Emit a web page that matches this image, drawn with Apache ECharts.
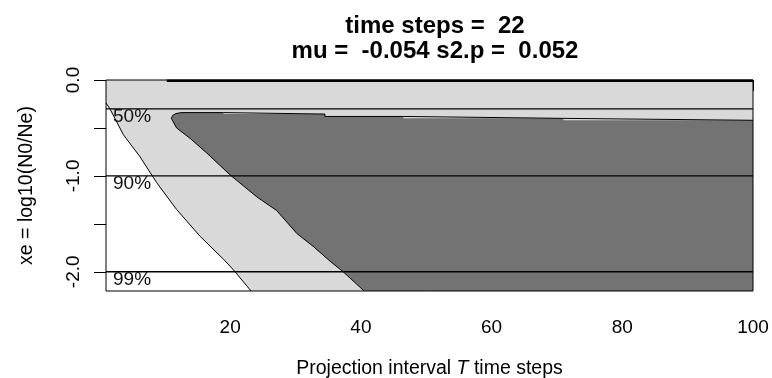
<!DOCTYPE html>
<html>
<head>
<meta charset="utf-8">
<script src="https://cdn.jsdelivr.net/npm/echarts@6/dist/echarts.min.js"></script>
<style>
html,body{margin:0;padding:0;background:#fff;}
#chart{width:772px;height:378px;}
</style>
</head>
<body>
<div id="chart"></div>
<script>
// ---- data ----
const titleLines = ['time steps =  22', 'mu =  -0.054 s2.p =  0.052'];
const xRange = [1, 100];
const yRange = [-2.2, 0];
const xTicks = [20, 40, 60, 80, 100];
const yTicks = [0, -0.5, -1, -1.5, -2];
const yTickLabels = [0, -1, -2];

// boundary of the white (lower-left) region
const whiteEdgeX = [1, 1.6, 3.65, 6.2, 8.75, 11.8, 15.4, 19, 20.5, 23.2];
const whiteEdgeY = [-0.24, -0.30, -0.57, -0.80, -1.07, -1.35, -1.63, -1.87, -1.98, -2.2];

// top edge of the dark region
const darkTopX = [11.0, 11.2, 11.7, 12.5, 19, 19, 34.5, 34.5, 46.5, 46.5, 71, 71, 100];
const darkTopY = [-0.40, -0.37, -0.35, -0.34, -0.34, -0.355, -0.355, -0.38, -0.38, -0.40, -0.40, -0.42, -0.42];

// lower-left edge of the dark region
const darkLeftX = [11.0, 11.8, 13.9, 16.4, 20.0, 24.1, 27.1, 30.2, 32.8, 35.3, 37.3, 40.5];
const darkLeftY = [-0.40, -0.50, -0.61, -0.76, -0.99, -1.22, -1.36, -1.60, -1.74, -1.89, -2.00, -2.2];

// thick contour along the top
const topLineX = [10.3, 100];
const topLineY = [-0.008, -0.008];

// probability level lines
const levelNames = ['50%', '90%', '99%'];
const levelValues = [-0.301, -1, -2];

// ---- build chart ----
const pairs = (xs, ys) => xs.map((x, i) => [x, ys[i]]);
const FONT = '"Liberation Sans", Arial, sans-serif';
const LIGHT = '#d9d9d9';
const DARK = '#737373';

// dark region polygon: top edge, right-bottom corner, left edge reversed
const darkPoly = pairs(darkTopX, darkTopY)
  .concat([[xRange[1], yRange[0]]])
  .concat(pairs(darkLeftX, darkLeftY).reverse());

const series = [];
// light gray background over the full plot region
series.push({
  type: 'line', z: 1, data: pairs(xRange, [yRange[1], yRange[1]]), symbol: 'none',
  lineStyle: {width: 0}, areaStyle: {color: LIGHT, opacity: 1, origin: 'start'}, silent: true
});
// dark region
series.push({
  type: 'custom', z: 2, silent: true, clip: true,
  data: darkPoly,
  renderItem: (params, api) => {
    if (params.dataIndex !== 0) return null;
    return {
      type: 'polygon',
      shape: {points: darkPoly.map(p => api.coord(p))},
      style: {fill: DARK, stroke: null}
    };
  }
});
// dark region outline
series.push({
  type: 'line', z: 3, data: pairs(darkTopX, darkTopY), symbol: 'none',
  lineStyle: {color: '#000', width: 1}, silent: true
});
series.push({
  type: 'line', z: 3, data: pairs(darkLeftX, darkLeftY), symbol: 'none',
  lineStyle: {color: '#000', width: 1}, silent: true
});
// white lower-left region
series.push({
  type: 'line', z: 3, data: pairs(whiteEdgeX, whiteEdgeY), symbol: 'none',
  lineStyle: {color: '#000', width: 1}, areaStyle: {color: '#fff', opacity: 1, origin: 'start'}, silent: true
});
// thick top contour
series.push({
  type: 'line', z: 4, data: pairs(topLineX, topLineY), symbol: 'none',
  lineStyle: {color: '#000', width: 2.5}, silent: true
});
// level lines
levelValues.forEach(v => {
  series.push({
    type: 'line', z: 4, data: pairs(xRange, [v, v]), symbol: 'none',
    lineStyle: {color: '#000', width: 1.4}, silent: true
  });
});
// level labels
series.push({
  type: 'custom', silent: true, clip: false, z: 5,
  data: levelValues.map((v, i) => [xRange[0], v, levelNames[i]]),
  renderItem: (params, api) => {
    const pt = api.coord([api.value(0), api.value(1)]);
    return {
      type: 'text',
      x: pt[0] + 7, y: pt[1] + 8,
      style: {
        text: levelNames[params.dataIndex], fill: '#111',
        font: '19px ' + FONT, textAlign: 'left', textVerticalAlign: 'middle'
      }
    };
  }
});

const option = {
  animation: false,
  backgroundColor: '#fff',
  title: {
    text: titleLines.join('\n'),
    left: 430, top: 9, textAlign: 'center',
    textStyle: {fontFamily: FONT, fontSize: 24, fontWeight: 'bold', color: '#000', lineHeight: 25}
  },
  grid: {
    left: 106, right: 19, top: 80, bottom: 87,
    outerBoundsMode: 'none', containLabel: false,
    show: true, borderColor: '#000', borderWidth: 1, backgroundColor: 'transparent', z: 10
  },
  xAxis: {
    type: 'value', min: xRange[0], max: xRange[1],
    axisLine: {show: false},
    splitLine: {show: false},
    axisTick: {show: true, length: 11, customValues: xTicks, lineStyle: {color: '#000'}},
    axisLabel: {customValues: xTicks, margin: 27, color: '#000', fontFamily: FONT, fontSize: 19},
    name: 'Projection interval {i|T} time steps',
    nameLocation: 'middle', nameGap: 68,
    nameTextStyle: {fontFamily: FONT, fontSize: 19.5, color: '#000',
      rich: {i: {fontStyle: 'italic', fontFamily: FONT, fontSize: 19.5, color: '#000'}}}
  },
  yAxis: {
    type: 'value', min: yRange[0], max: yRange[1],
    axisLine: {show: false},
    splitLine: {show: false},
    axisTick: {show: true, length: 12, customValues: yTicks, lineStyle: {color: '#000'}},
    axisLabel: {customValues: yTickLabels, rotate: 90, margin: 23, color: '#000',
      fontFamily: FONT, fontSize: 19, formatter: v => v.toFixed(1)},
    name: 'xe = log10(N0/Ne)',
    nameLocation: 'middle', nameGap: 69,
    nameTextStyle: {fontFamily: FONT, fontSize: 19.5, color: '#000'}
  },
  series: series
};

const chart = echarts.init(document.getElementById('chart'), null, {renderer: 'canvas'});
chart.setOption(option);
</script>
</body>
</html>
